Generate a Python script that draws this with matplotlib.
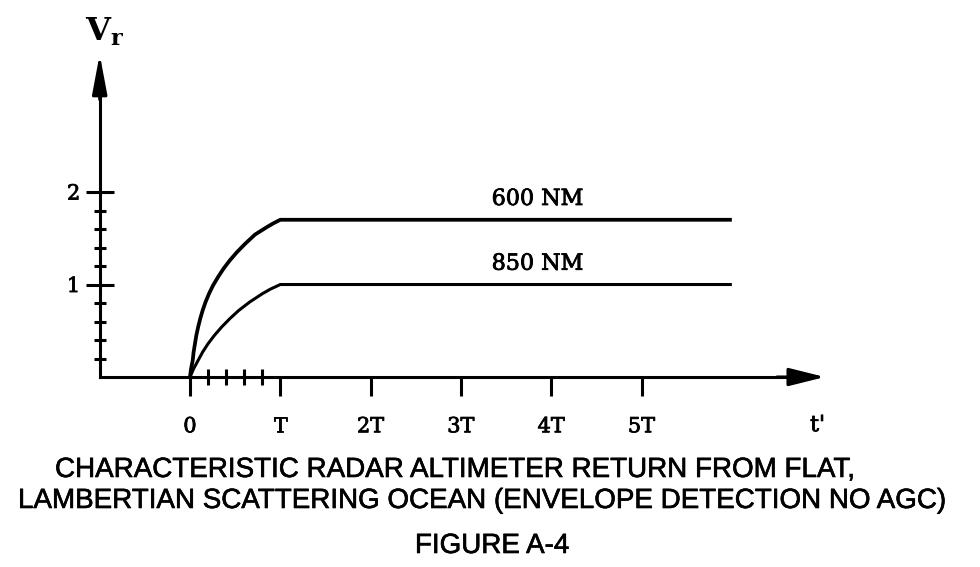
import matplotlib
matplotlib.use("Agg")
import matplotlib.pyplot as plt
import matplotlib.patheffects as pe
from matplotlib.ticker import FixedLocator

# ---- data ----
t_600 = [0, 0.012, 0.03, 0.04, 0.055, 0.07, 0.09, 0.113, 0.14, 0.172, 0.21,
         0.255, 0.31, 0.37, 0.44, 0.52, 0.61, 0.72, 0.85, 0.92, 1.0, 6.0]
v_600 = [0, 0.09, 0.18, 0.27, 0.36, 0.45, 0.54, 0.63, 0.72, 0.81, 0.90,
         0.99, 1.08, 1.17, 1.26, 1.35, 1.44, 1.54, 1.62, 1.66, 1.70, 1.70]
t_850 = [0, 0.04, 0.09, 0.14, 0.20, 0.27, 0.35, 0.44, 0.54, 0.66, 0.80, 0.89, 1.0, 6.0]
v_850 = [0, 0.09, 0.18, 0.27, 0.36, 0.45, 0.54, 0.63, 0.72, 0.81, 0.90, 0.95, 1.0, 1.0]

series_labels = ["600 NM", "850 NM"]
label_pos_t = [3.85, 3.85]

x_major = [0, 1, 2, 3, 4, 5]
x_major_labels = ["0", "T", "2T", "3T", "4T", "5T"]
x_minor = [0.2, 0.4, 0.6, 0.8]
y_major = [1, 2]
y_major_labels = ["1", "2"]
y_minor = [0.2, 0.4, 0.6, 0.8, 1.2, 1.4, 1.6, 1.8]

caption_1 = "CHARACTERISTIC RADAR ALTIMETER RETURN FROM FLAT,"
caption_2 = "LAMBERTIAN SCATTERING OCEAN (ENVELOPE DETECTION NO AGC)"
caption_3 = "FIGURE A-4"

serif = ["DejaVu Serif"]
cap_font = ["Liberation Sans", "DejaVu Sans"]

plt.rcParams["mathtext.fontset"] = "dejavuserif"

fig = plt.figure(figsize=(9.8, 5.67), dpi=100)
ax = fig.add_axes([0, 0, 1, 1])
ax.set_xlim(-2.104, 8.748)
ax.set_ylim(-2.054, 4.076)

lw = 2.2
ax.plot(t_600, v_600, color="black", lw=2.7, solid_capstyle="butt", solid_joinstyle="round")
ax.plot(t_850, v_850, color="black", lw=2.2, solid_capstyle="butt", solid_joinstyle="round")

thin = [pe.withStroke(linewidth=0.6, foreground="black")]
for lab, tp, v in zip(series_labels, label_pos_t, [v_600[-1], v_850[-1]]):
    ax.text(tp, v + 0.16, lab, family=serif, fontsize=16,
            ha="center", va="baseline", color="black", path_effects=thin)

# axes
for s in ["top", "right"]:
    ax.spines[s].set_visible(False)
ax.spines["left"].set_position(("data", -1))
ax.spines["bottom"].set_position(("data", 0))
ax.spines["left"].set_bounds(0, 3.2)
ax.spines["bottom"].set_bounds(-1, 6.7)
ax.spines["left"].set_linewidth(lw)
ax.spines["bottom"].set_linewidth(lw)

ax.annotate("", xy=(-1, 3.49), xytext=(-1, 3.0),
            arrowprops=dict(arrowstyle="-|>,head_length=24,head_width=4.5",
                            mutation_scale=1, color="black", lw=lw,
                            shrinkA=0, shrinkB=0))
ax.annotate("", xy=(7.03, 0), xytext=(6.5, 0),
            arrowprops=dict(arrowstyle="-|>,head_length=22,head_width=5.5",
                            mutation_scale=1, color="black", lw=lw,
                            shrinkA=0, shrinkB=0))

ax.xaxis.set_major_locator(FixedLocator(x_major))
ax.xaxis.set_minor_locator(FixedLocator(x_minor))
ax.set_xticklabels(x_major_labels)
ax.yaxis.set_major_locator(FixedLocator(y_major))
ax.yaxis.set_minor_locator(FixedLocator(y_minor))
ax.set_yticklabels(y_major_labels)

ax.tick_params(axis="x", which="major", direction="out", length=14, width=lw,
               pad=15, labelsize=15)
ax.tick_params(axis="x", which="minor", direction="inout", length=11, width=lw)
ax.tick_params(axis="y", which="major", direction="inout", length=20, width=lw,
               pad=4, labelsize=15)
ax.tick_params(axis="y", which="minor", direction="inout", length=9, width=lw)
for lab in ax.get_xticklabels() + ax.get_yticklabels():
    lab.set_family(serif)
    lab.set_path_effects(thin)

ax.text(6.95, -0.52, "t'", family=serif, fontsize=16,
        ha="center", va="center", path_effects=thin)
ax.text(-0.95, 3.73, r"$\mathbf{V_r}$", fontsize=23, ha="center", va="center")

stroke = [pe.withStroke(linewidth=0.45, foreground="black")]
fig.text(55 / 980, 1 - 470 / 567, caption_1, family=cap_font, fontsize=20,
         ha="left", va="center", path_effects=stroke)
fig.text(18 / 980, 1 - 501 / 567, caption_2, family=cap_font, fontsize=20,
         ha="left", va="center", path_effects=stroke)
fig.text(492 / 980, 1 - 546 / 567, caption_3, family=cap_font, fontsize=20,
         ha="center", va="center", path_effects=stroke)

fig.savefig("out.png", dpi=100, facecolor="white")
